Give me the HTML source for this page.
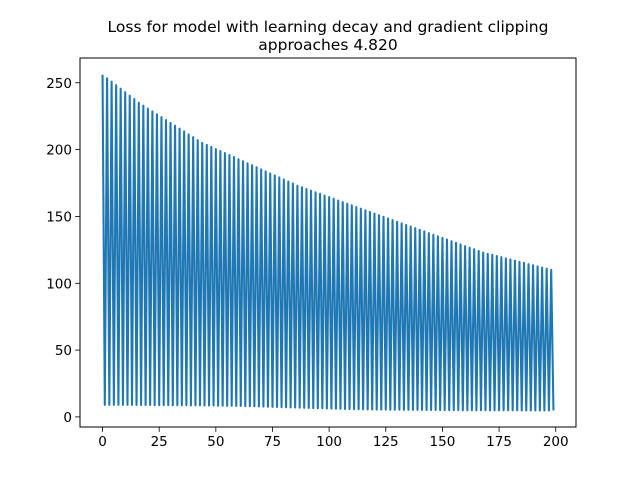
<!DOCTYPE html>
<html><head><meta charset="utf-8"><style>
body{margin:0;background:#fff}
svg text{font-family:"DejaVu Sans","Liberation Sans",sans-serif;fill:#000}
</style></head><body>
<svg id="chart" width="640" height="480" xmlns="http://www.w3.org/2000/svg">
<rect width="640" height="480" fill="#fff"/>
<text x="328" y="32" font-size="15.5" text-anchor="middle">Loss for model with learning decay and gradient clipping</text>
<text x="328" y="50" font-size="15.5" text-anchor="middle">approaches 4.820</text>
<g id="ticks"></g>
<path id="line" fill="none" stroke="#1f77b4" stroke-width="2.08" stroke-linejoin="round"/>
<rect x="80" y="58" width="496" height="369" fill="none" stroke="#000" stroke-width="1"/>
</svg>
<script>
const peaks=[256,253.4,250.8,248.2,245.6,243,240.4,237.8,235,
232.9,230.7,228.6,226.4,224.3,222.1,220,217.9,215.7,213.6,211.4,209.3,207.1,205,
203.5,202,200.4,198.9,197.4,195.9,194.4,192.8,191.3,189.8,188.3,186.8,185.2,183.7,182.2,180.7,179.2,177.6,176.1,174.6,173,
171.8,170.5,169.3,168.1,166.9,165.6,164.4,163.2,161.9,160.7,159.5,158.3,157,155.8,154.6,153.4,152.1,150.9,149.7,148.5,147.2,146,
144.8,143.6,142.4,141.2,140,138.8,137.5,136.3,135.1,133.9,132.7,131.5,130.3,129.1,127.8,126.6,125.4,124.2,123,
122.1,121.3,120.4,119.5,118.6,117.8,116.9,116,115.2,114.3,113.4,112.6,111.7,110.9,110];
const troughs=[9,9,9,9,9,9,9,8.9,8.9,8.9,8.9,8.8,8.8,8.8,8.8,8.7,8.7,8.7,8.7,8.6,
8.6,8.6,8.5,8.5,8.5,8.4,8.4,8.3,8.3,8.2,8.2,8.1,8.0,7.9,7.8,7.7,7.6,7.5,7.4,7.3,
7.2,7.1,7.0,6.9,6.8,6.7,6.6,6.5,6.4,6.3,6.2,6.1,6.0,5.9,5.8,5.8,5.7,5.7,5.6,5.6,
5.5,5.5,5.5,5.4,5.4,5.4,5.3,5.3,5.3,5.3,5.2,5.2,5.2,5.2,5.1,5.1,5.1,5.1,5.1,5.0,
5.0,5.0,5.0,5.0,5.0,4.9,4.9,4.9,4.9,4.9,4.9,4.9,4.8,4.8,4.8,4.8,4.8,4.8,4.8,4.82];
const xTicks=[0,25,50,75,100,125,150,175,200];
const yTicks=[0,50,100,150,200,250];
const X0=80,X1=576,Y0=58,Y1=427,xmin=-9.95,xmax=208.95,ymin=-7.55,ymax=268.55;
const sx=v=>X0+(v-xmin)/(xmax-xmin)*(X1-X0);
const sy=v=>Y1-(v-ymin)/(ymax-ymin)*(Y1-Y0);
const ns="http://www.w3.org/2000/svg";
const g=document.getElementById('ticks');
function mk(t,a){const e=document.createElementNS(ns,t);for(const k in a)e.setAttribute(k,a[k]);g.appendChild(e);return e;}
xTicks.forEach(v=>{
  const l=mk('line',{x1:sx(v),x2:sx(v),y1:Y1,y2:Y1+4.9,stroke:'#000','stroke-width':0.8});
  
  
  const t=mk('text',{x:sx(v),y:Y1+19,'font-size':13.5,'text-anchor':'middle'});t.textContent=v;
  
  
});
yTicks.forEach(v=>{
  const l=mk('line',{x1:X0-4.9,x2:X0,y1:sy(v),y2:sy(v),stroke:'#000','stroke-width':0.8});
  
  
  const t=mk('text',{x:X0-8,y:sy(v)+5,'font-size':13.5,'text-anchor':'end'});t.textContent=v;
  
  
});
let d='';
for(let k=0;k<peaks.length;k++){
  d+=(k?'L':'M')+sx(2*k).toFixed(2)+','+sy(peaks[k]).toFixed(2);
  d+='L'+sx(2*k+1).toFixed(2)+','+sy(troughs[k]).toFixed(2);
}
document.getElementById('line').setAttribute('d',d);
</script>
</body></html>
